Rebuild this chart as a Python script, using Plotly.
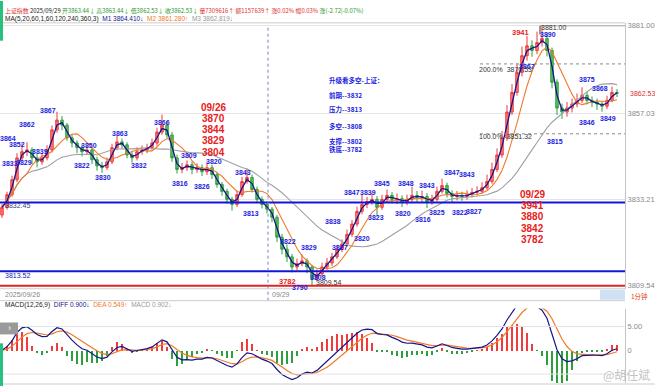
import plotly.graph_objects as go
import pandas as pd

# ---------------- data ----------------
opens = [3829.0, 3831.1, 3834.6, 3838.7, 3844.7, 3846.4, 3846.9, 3844.7, 3843.6, 3844.7,
         3846.9, 3852.4, 3855.1, 3853.7, 3850.2, 3848.8, 3847.5, 3846.4, 3846.9, 3844.2,
         3842.5, 3842.0, 3843.6, 3847.5, 3849.1, 3848.3, 3845.5, 3844.7, 3846.4, 3846.9,
         3847.5, 3848.8, 3851.8, 3853.7, 3851.0, 3844.7, 3841.5, 3842.0, 3842.8, 3841.5,
         3842.0, 3840.9, 3842.0, 3840.1, 3837.4, 3835.5, 3833.3, 3831.9, 3834.6, 3838.2,
         3839.3, 3836.0, 3833.3, 3831.9, 3830.6, 3828.4, 3822.9, 3819.6, 3817.5, 3814.7,
         3815.6, 3816.4, 3814.7, 3811.5, 3812.8, 3814.7, 3815.8, 3817.5, 3819.6, 3821.0,
         3823.7, 3826.5, 3830.0, 3831.9, 3832.7, 3833.3, 3831.1, 3833.3, 3834.4, 3833.3,
         3833.5, 3832.5, 3833.3, 3834.4, 3833.8, 3834.1, 3832.7, 3833.3, 3835.5, 3837.1,
         3834.9, 3834.1, 3834.4, 3834.1, 3834.6, 3835.2, 3835.5, 3836.5, 3838.2, 3841.5,
         3845.5, 3850.2, 3857.3, 3862.7, 3868.2, 3872.8, 3875.5, 3874.2, 3876.4, 3877.5,
         3874.2, 3865.5, 3858.4, 3857.3, 3858.4, 3859.5, 3860.5, 3861.9, 3860.5, 3860.0,
         3859.5, 3858.9, 3860.5, 3862.7]
highs = [3832.0, 3835.4, 3839.8, 3846.0, 3848.5, 3849.0, 3847.6, 3845.8, 3846.0, 3848.2,
         3853.6, 3857.4, 3856.2, 3854.3, 3851.1, 3849.5, 3848.3, 3848.0, 3847.5, 3845.0,
         3843.6, 3844.8, 3848.6, 3850.9, 3850.0, 3849.0, 3846.5, 3847.6, 3848.1, 3848.6,
         3850.0, 3853.0, 3856.6, 3854.5, 3851.8, 3845.6, 3843.3, 3844.0, 3843.7, 3843.2,
         3842.9, 3843.4, 3842.8, 3840.9, 3838.1, 3836.2, 3834.0, 3835.7, 3839.5, 3841.8,
         3840.1, 3836.8, 3834.1, 3832.7, 3831.2, 3829.0, 3823.8, 3820.9, 3818.3, 3817.0,
         3818.2, 3817.1, 3815.3, 3814.0, 3815.9, 3817.2, 3818.6, 3820.8, 3822.3, 3825.0,
         3827.6, 3831.3, 3834.6, 3834.0, 3835.2, 3834.2, 3834.5, 3836.0, 3835.3, 3834.9,
         3834.4, 3834.6, 3836.8, 3835.6, 3835.7, 3835.0, 3834.6, 3836.8, 3839.0, 3837.9,
         3835.8, 3835.6, 3835.4, 3835.8, 3836.4, 3836.9, 3838.0, 3840.1, 3843.4, 3847.3,
         3852.1, 3859.2, 3865.0, 3870.6, 3875.3, 3878.2, 3877.0, 3879.4, 3881.0, 3878.8,
         3875.0, 3866.3, 3859.6, 3860.1, 3861.0, 3862.4, 3864.1, 3862.8, 3861.6, 3861.0,
         3860.3, 3861.8, 3864.3, 3863.6]
lows = [3828.2, 3830.5, 3834.0, 3838.0, 3843.9, 3845.2, 3843.0, 3842.1, 3842.8, 3844.0,
        3846.2, 3851.6, 3852.3, 3849.4, 3847.6, 3846.0, 3845.1, 3845.5, 3843.0, 3841.2,
        3840.6, 3841.4, 3843.0, 3846.8, 3847.2, 3844.6, 3843.4, 3844.0, 3845.6, 3846.0,
        3846.9, 3848.0, 3851.0, 3850.1, 3843.6, 3840.4, 3840.5, 3841.1, 3840.2, 3840.6,
        3839.7, 3840.0, 3838.9, 3836.5, 3834.3, 3832.1, 3830.2, 3831.2, 3834.0, 3837.6,
        3835.2, 3832.4, 3830.8, 3829.5, 3827.0, 3821.6, 3818.2, 3816.1, 3813.2, 3813.8,
        3814.9, 3813.0, 3809.54, 3810.7, 3812.1, 3813.9, 3815.0, 3816.9, 3818.8, 3820.3,
        3823.0, 3825.8, 3829.2, 3830.9, 3831.8, 3828.6, 3830.4, 3832.6, 3832.2, 3832.0,
        3831.2, 3831.7, 3832.5, 3832.4, 3832.3, 3830.9, 3831.8, 3832.7, 3834.9, 3833.8,
        3832.4, 3833.0, 3832.9, 3833.2, 3833.8, 3834.4, 3834.8, 3835.9, 3837.6, 3840.8,
        3844.7, 3849.4, 3856.5, 3861.8, 3867.1, 3871.4, 3872.5, 3873.2, 3875.3, 3872.6,
        3863.8, 3856.5, 3855.4, 3856.0, 3857.2, 3858.6, 3859.8, 3859.4, 3858.7, 3857.9,
        3857.4, 3858.1, 3860.0, 3861.4]
closes = [3831.1, 3834.6, 3838.7, 3844.7, 3846.4, 3846.9, 3844.7, 3843.6, 3844.7, 3846.9,
          3852.4, 3855.1, 3853.7, 3850.2, 3848.8, 3847.5, 3846.4, 3846.9, 3844.2, 3842.5,
          3842.0, 3843.6, 3847.5, 3849.1, 3848.3, 3845.5, 3844.7, 3846.4, 3846.9, 3847.5,
          3848.8, 3851.8, 3853.7, 3851.0, 3844.7, 3841.5, 3842.0, 3842.8, 3841.5, 3842.0,
          3840.9, 3842.0, 3840.1, 3837.4, 3835.5, 3833.3, 3831.9, 3834.6, 3838.2, 3839.3,
          3836.0, 3833.3, 3831.9, 3830.6, 3828.4, 3822.9, 3819.6, 3817.5, 3814.7, 3815.6,
          3816.4, 3814.7, 3811.5, 3812.8, 3814.7, 3815.8, 3817.5, 3819.6, 3821.0, 3823.7,
          3826.5, 3830.0, 3831.9, 3832.7, 3833.3, 3831.1, 3833.3, 3834.4, 3833.3, 3833.5,
          3832.5, 3833.3, 3834.4, 3833.8, 3834.1, 3832.7, 3833.3, 3835.5, 3837.1, 3834.9,
          3834.1, 3834.4, 3834.1, 3834.6, 3835.2, 3835.5, 3836.5, 3838.2, 3841.5, 3845.5,
          3850.2, 3857.3, 3862.7, 3868.2, 3872.8, 3875.5, 3874.2, 3876.4, 3877.5, 3874.2,
          3865.5, 3858.4, 3857.3, 3858.4, 3859.5, 3860.5, 3861.9, 3860.5, 3860.0, 3859.5,
          3858.9, 3860.5, 3862.7, 3862.5]
bars = list(range(len(closes)))
day_break_bar = 53.2

# price-axis ticks
price_ticks = [3881.00, 3857.03, 3833.21, 3809.54]
price_tick_text = ["3881.00", "3857.03", "3833.21", "3809.54"]
last_price = 3862.53
macd_ticks = [5, 0]
macd_tick_text = ["5.00", "0"]

# horizontal levels
blue_levels = [3832.45, 3813.52]
red_level = 3809.54
fib_levels = [3870.53, 3851.32]
fib_start_bar = 95.6
high_price = 3881.00
high_bar = 107.6

# swing labels on the chart
blue_text = ["3864", "3862", "3867", "3852", "3839", "3833", "3829", "3822", "3850", "3830",
             "3863", "3832", "3866", "3809", "3816", "3826", "3820", "3843", "3813", "3822",
             "3829", "3790", "3808", "3838", "3827", "3847", "3839", "3845", "3820", "3823",
             "3848", "3843", "3820", "3816", "3825", "3847", "3843", "3822", "3827", "3890",
             "3867", "3875", "3868", "3846", "3849", "3815"]
blue_bar = [1.2, 5.0, 9.2, 3.0, 7.6, 1.6, 4.4, 16.0, 17.4, 20.2,
            23.6, 27.4, 32.0, 37.4, 35.6, 40.0, 42.4, 48.2, 49.8, 57.2,
            61.4, 59.6, 63.2, 66.2, 67.6, 70.0, 73.2, 76.0, 72.0, 74.8,
            80.8, 85.0, 80.2, 84.2, 87.0, 90.0, 93.0, 91.6, 94.4, 109.2,
            105.0, 117.0, 119.6, 117.0, 121.2, 110.6]
blue_price = [3849.9, 3854.0, 3857.8, 3848.3, 3846.4, 3843.1, 3843.4, 3842.5, 3848.0, 3839.3,
              3851.3, 3842.5, 3854.5, 3845.3, 3837.6, 3836.8, 3843.6, 3840.6, 3829.5, 3821.8,
              3820.2, 3809.0, 3811.7, 3827.3, 3820.2, 3835.2, 3835.2, 3837.6, 3822.6, 3828.4,
              3837.6, 3837.1, 3829.5, 3827.8, 3829.7, 3840.6, 3840.1, 3829.7, 3830.0, 3878.5,
              3869.8, 3866.3, 3863.8, 3854.5, 3855.4, 3849.1]
red_text = ["3941", "3782"]
red_bar = [103.6, 57.0]
red_price = [3879.1, 3810.6]
black_text = ["3881.00", "3809.54", "200.0%  3870.53", "100.0%  3851.32"]
black_bar = [110.2, 65.2, 100.6, 100.6]
black_price = [3880.5, 3810.4, 3869.0, 3850.5]

left_block = ["09/26", "3870", "3844", "3829", "3804"]
right_block = ["09/29", "3941", "3880", "3842", "3782"]
mid_block = ["升级看多空-上证：", "前期--3832", "压力--3813", "多空--3808", "支撑--3802", "铁底--3782"]

# ---------------- derived indicators ----------------
cs = pd.Series(closes)
m1 = cs.rolling(2, min_periods=1).mean()
m2 = cs.rolling(6, min_periods=1).mean()
m3 = cs.rolling(20, min_periods=1).mean()
ema_f = cs.ewm(span=4, adjust=False).mean()
ema_s = cs.ewm(span=10, adjust=False).mean()
diff = ema_f - ema_s
dea = diff.ewm(span=5, adjust=False).mean()
hist = 2 * (diff - dea)

# ---------------- layout helpers ----------------
W, H = 655, 388
def PX(p): return p / W
def PY(p): return 1 - p / H
XR = 625 / W
FONT = "Liberation Sans, Arial, Noto Sans CJK SC"
CJK = "Noto Sans CJK SC, Liberation Sans"

fig = go.Figure()
fig.add_trace(go.Candlestick(
    x=bars, open=opens, high=highs, low=lows, close=closes,
    increasing=dict(line=dict(color="#f03a3a", width=1), fillcolor="#ff7a7a"),
    decreasing=dict(line=dict(color="#2e9e3e", width=1), fillcolor="#5cbf5c"),
    whiskerwidth=0, xaxis="x", yaxis="y", showlegend=False, hoverinfo="skip"))
fig.add_trace(go.Scatter(x=bars, y=m3, mode="lines", line=dict(color="#a0a0a0", width=1.1),
                         xaxis="x", yaxis="y", showlegend=False, hoverinfo="skip"))
fig.add_trace(go.Scatter(x=bars, y=m2, mode="lines", line=dict(color="#f07a2a", width=1.1),
                         xaxis="x", yaxis="y", showlegend=False, hoverinfo="skip"))
fig.add_trace(go.Scatter(x=bars, y=m1, mode="lines", line=dict(color="#16168a", width=1.3),
                         xaxis="x", yaxis="y", showlegend=False, hoverinfo="skip"))

hist_colors = ["#f23c3c" if v >= 0 else "#2e9e3e" for v in hist]
fig.add_trace(go.Bar(x=bars, y=hist, marker=dict(color=hist_colors, line=dict(width=0)),
                     width=0.5, xaxis="x2", yaxis="y2", showlegend=False, hoverinfo="skip"))
fig.add_trace(go.Scatter(x=bars, y=dea, mode="lines", line=dict(color="#f07a2a", width=1.2),
                         xaxis="x2", yaxis="y2", showlegend=False, hoverinfo="skip"))
fig.add_trace(go.Scatter(x=bars, y=diff, mode="lines", line=dict(color="#16168a", width=1.2),
                         xaxis="x2", yaxis="y2", showlegend=False, hoverinfo="skip"))

shapes = []
for lv in blue_levels:
    shapes.append(dict(type="line", xref="paper", yref="y", x0=0, x1=XR, y0=lv, y1=lv,
                       line=dict(color="#1414d8", width=2)))
shapes.append(dict(type="line", xref="paper", yref="y", x0=0, x1=XR, y0=red_level, y1=red_level,
                   line=dict(color="#e02424", width=2)))
for lv in fib_levels:
    shapes.append(dict(type="line", xref="x", yref="y", x0=fib_start_bar, x1=124.6, y0=lv, y1=lv,
                       line=dict(color="#8a8a8a", width=1, dash="dot")))
shapes.append(dict(type="line", xref="x", yref="y", x0=high_bar, x1=124.6, y0=high_price, y1=high_price,
                   line=dict(color="#a8a8a8", width=1)))
shapes.append(dict(type="line", xref="x", yref="y", x0=high_bar, x1=high_bar, y0=high_price, y1=3878.6,
                   line=dict(color="#333333", width=1)))
shapes.append(dict(type="line", xref="x", yref="paper", x0=day_break_bar, x1=day_break_bar,
                   y0=PY(302), y1=PY(24), line=dict(color="#7a7ad8", width=1, dash="dot")))
for yy in [22, 290, 302]:
    shapes.append(dict(type="line", xref="paper", yref="paper", x0=0, x1=XR, y0=PY(yy), y1=PY(yy),
                       line=dict(color="#cccccc", width=1)))
shapes.append(dict(type="line", xref="paper", yref="paper", x0=0, x1=1, y0=PY(386), y1=PY(386),
                   line=dict(color="#cccccc", width=1)))
for lv in [5, -5]:
    shapes.append(dict(type="line", xref="paper", yref="y2", x0=0, x1=XR, y0=lv, y1=lv,
                       line=dict(color="#e2e2e2", width=1)))
shapes.append(dict(type="rect", xref="paper", yref="paper", x0=0, x1=PX(3), y0=PY(40), y1=PY(0),
                   fillcolor="#27c07f", line=dict(width=0)))
shapes.append(dict(type="rect", xref="paper", yref="paper", x0=0, x1=PX(3), y0=PY(388), y1=PY(345),
                   fillcolor="#27c07f", line=dict(width=0)))
shapes.append(dict(type="rect", xref="paper", yref="paper", x0=0, x1=PX(18), y0=PY(336), y1=PY(324),
                   fillcolor="#9a9a9a", line=dict(width=0)))
shapes.append(dict(type="rect", xref="paper", yref="paper", x0=PX(600), x1=XR, y0=PY(301), y1=PY(291),
                   fillcolor="#cfe0f5", line=dict(width=0)))

ann = []
def add(text, x, y, xref="paper", yref="paper", xanchor="center", size=7, color="#222", family=FONT):
    ann.append(dict(x=x, y=y, xref=xref, yref=yref, text=text, showarrow=False,
                    xanchor=xanchor, yanchor="middle",
                    font=dict(family=family, size=size, color=color)))

for t, b, p in zip(blue_text, blue_bar, blue_price):
    add("<b>%s</b>" % t, b, p, "x", "y", size=7, color="#1c1ce0")
for t, b, p in zip(red_text, red_bar, red_price):
    add("<b>%s</b>" % t, b, p, "x", "y", size=7.5, color="#e82020")
for t, b, p in zip(black_text, black_bar, black_price):
    add(t, b, p, "x", "y", size=7, color="#333333")
for k, t in enumerate(left_block):
    add("<b>%s</b>" % t, PX(213), PY(107 + 11.3 * k), size=10, color="#e82020")
for k, t in enumerate(right_block):
    add("<b>%s</b>" % t, PX(532), PY(195 + 11.3 * k), size=10, color="#e82020")
for t, yy in zip(mid_block, [80, 95, 109, 126, 141, 149]):
    add("<b>%s</b>" % t, PX(327), PY(yy), xanchor="left", size=6.5, color="#1c1ce0", family=CJK)
add("3832.45", PX(3), PY(206), xanchor="left", size=7, color="#40407a")
add("3813.52", PX(3), PY(277), xanchor="left", size=7, color="#2020c0")
add("3862.53", PX(628), last_price, "paper", "y", xanchor="left", size=7, color="#e03030")
add("2025/09/26", PX(3), PY(296), xanchor="left", size=7, color="#888888")
add("09/29", PX(270), PY(296), xanchor="left", size=7, color="#888888")
add("1分钟", PX(629), PY(297), xanchor="left", size=6.5, color="#e04020", family=CJK)
add("›", PX(9), PY(330), size=9, color="#ffffff")
hdr1 = ('<span style="color:#e03030">上证指数</span> <span style="color:#222">2025/09/29</span> '
        '<span style="color:#2a9a2a">开3863.44↓ 高3863.44↓ 低3862.53↓ 收3862.53↓</span> '
        '<span style="color:#e03030">量7309616↑ 额1157639↑ 涨0.02% 幅0.03%</span> '
        '<span style="color:#2a9a2a">涨(-2.72|-0.07%)</span>')
add(hdr1, PX(3), PY(10), xanchor="left", size=5.9, family=CJK)
hdr2 = ('<span style="color:#222">MA(5,20,60,1,60,120,240,360,3)</span>  '
        '<span style="color:#16168a">M1 3864.410↓</span>  '
        '<span style="color:#f07a2a">M2 3861.280↑</span>  '
        '<span style="color:#999">M3 3862.819↓</span>')
add(hdr2, PX(3), PY(18), xanchor="left", size=6.5)
hdr3 = ('<span style="color:#222">MACD(12,26,9)</span>  '
        '<span style="color:#16168a">DIFF 0.900↓</span>  '
        '<span style="color:#f07a2a">DEA 0.549↑</span>  '
        '<span style="color:#999">MACD 0.902↓</span>')
add(hdr3, PX(3), PY(306), xanchor="left", size=6.5)
add("@胡任斌", PX(652), PY(376), xanchor="right", size=12, color="rgba(185,185,185,0.85)", family=CJK)

fig.update_layout(
    width=W, height=H, margin=dict(l=0, r=0, t=0, b=0),
    paper_bgcolor="white", plot_bgcolor="white", showlegend=False, bargap=0,
    shapes=shapes, annotations=ann,
    xaxis=dict(domain=[0, XR], range=[-0.4, 124.6], showticklabels=False, showgrid=False,
               zeroline=False, rangeslider=dict(visible=False), anchor="y"),
    yaxis=dict(domain=[PY(290), PY(22)], range=[3808.73, 3881.82], side="right", anchor="x",
               tickvals=price_ticks, ticktext=price_tick_text, ticks="",
               tickfont=dict(family=FONT, size=7.5, color="#8a8a8a"),
               showgrid=True, gridcolor="#e4e4e4", zeroline=False,
               showline=True, linecolor="#c4c4c4", linewidth=1),
    xaxis2=dict(domain=[0, XR], range=[-0.4, 124.6], showticklabels=False, showgrid=False,
                zeroline=False, anchor="y2", matches="x"),
    yaxis2=dict(domain=[PY(385), PY(310)], range=[-6.875, 8.75], side="right", anchor="x2",
                tickvals=macd_ticks, ticktext=macd_tick_text, ticks="",
                tickfont=dict(family=FONT, size=7.5, color="#8a8a8a"),
                showgrid=False, zeroline=False, showline=True, linecolor="#c4c4c4", linewidth=1),
)
fig.write_html("out.html", config={"displayModeBar": False},
               post_script="document.body.style.margin='0px';document.body.style.overflow='hidden';")
